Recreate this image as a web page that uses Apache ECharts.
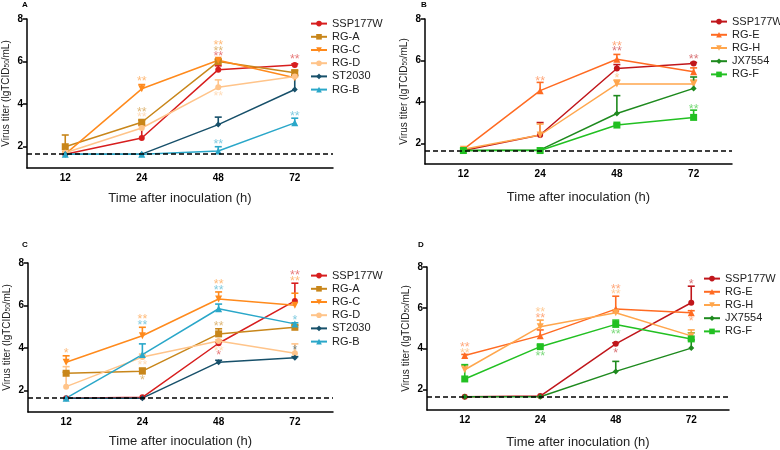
<!DOCTYPE html>
<html>
<head>
<meta charset="utf-8">
<script src="https://cdn.jsdelivr.net/npm/echarts@6/dist/echarts.min.js"></script>
<style>
html,body{margin:0;padding:0;background:#fff;}
#chart{width:780px;height:450px;}
</style>
</head>
<body>
<div id="chart"></div>
<script>
// ---------------- DATA ----------------
const times = ['12', '24', '48', '72'];
const LOD = 1.65;
const yTicks = [2, 4, 6, 8];
const panelLetters = ['A', 'B', 'C', 'D'];
const xTitle = 'Time after inoculation (h)';

// Panel A
const namesA = ['SSP177W', 'RG-A', 'RG-C', 'RG-D', 'ST2030', 'RG-B'];
const valuesA = [
  [1.65, 2.41, 5.62, 5.84],
  [2.00, 3.15, 6.00, 5.48],
  [1.65, 4.72, 6.06, 5.24],
  [1.72, 2.88, 4.79, 5.30],
  [1.65, 1.65, 3.04, 4.69],
  [1.65, 1.65, 1.80, 3.12]
];
const errorsA = [
  [0, 0.60, 0.18, 0.05],
  [0.55, 0.10, 0.08, 0.10],
  [0, 0.20, 0.05, 0.05],
  [0, 0.10, 0.35, 0.05],
  [0, 0, 0.35, 0.66],
  [0, 0, 0.20, 0.22]
];
// [time index, y, text, series index]
const starsA = [
  [1, 5.17, '**', 2], [1, 3.73, '**', 1], [1, 3.51, '**', 3],
  [2, 6.85, '**', 2], [2, 6.60, '**', 1], [2, 6.35, '**', 0],
  [2, 4.47, '**', 3], [2, 2.20, '**', 5],
  [3, 6.19, '**', 0], [3, 3.54, '**', 5]
];

// Panel B
const namesB = ['SSP177W', 'RG-E', 'RG-H', 'JX7554', 'RG-F'];
const valuesB = [
  [1.65, 2.40, 5.61, 5.85],
  [1.71, 4.54, 6.06, 5.45],
  [1.71, 2.40, 4.86, 4.86],
  [1.65, 1.68, 3.44, 4.65],
  [1.65, 1.65, 2.88, 3.25]
];
const errorsB = [
  [0, 0.60, 0.19, 0.05],
  [0, 0.40, 0.23, 0.19],
  [0, 0.53, 0.19, 0.19],
  [0, 0, 0.86, 0.55],
  [0, 0, 0.05, 0.35]
];
const starsB = [
  [1, 5.10, '**', 1],
  [2, 6.80, '**', 1], [2, 6.54, '**', 0], [2, 5.26, '*', 2],
  [3, 6.14, '**', 0], [3, 3.77, '**', 4]
];

// Panel C
const namesC = ['SSP177W', 'RG-A', 'RG-C', 'RG-D', 'ST2030', 'RG-B'];
const valuesC = [
  [1.65, 1.69, 4.23, 6.22],
  [2.82, 2.92, 4.67, 4.98],
  [3.34, 4.58, 6.31, 6.02],
  [2.19, 3.58, 4.34, 3.76],
  [1.65, 1.65, 3.34, 3.55],
  [1.65, 3.70, 5.85, 5.14]
];
const errorsC = [
  [0, 0, 0.05, 0.83],
  [0.05, 0.14, 0.24, 0.10],
  [0.30, 0.40, 0.33, 0.56],
  [0.94, 0.14, 0.05, 0.44],
  [0, 0, 0.09, 0.05],
  [0, 0.50, 0.22, 0.05]
];
const starsC = [
  [0, 3.87, '*', 2],
  [1, 5.45, '**', 2], [1, 5.18, '**', 5], [1, 3.32, '**', 3], [1, 2.61, '*', 1],
  [2, 7.09, '**', 2], [2, 6.83, '**', 5], [2, 5.13, '**', 1], [2, 3.97, '**', 3], [2, 3.75, '*', 0],
  [3, 7.53, '**', 0], [3, 7.26, '**', 2], [3, 5.40, '*', 5], [3, 4.02, '*', 4]
];

// Panel D
const namesD = ['SSP177W', 'RG-E', 'RG-H', 'JX7554', 'RG-F'];
const valuesD = [
  [1.65, 1.68, 4.24, 6.25],
  [3.67, 4.64, 5.94, 5.76],
  [2.97, 5.08, 5.76, 4.63],
  [1.65, 1.65, 2.89, 4.03],
  [2.52, 4.10, 5.19, 4.48]
];
const errorsD = [
  [0, 0, 0.05, 0.81],
  [0.05, 0.28, 0.63, 0.10],
  [0.20, 0.32, 0.10, 0.29],
  [0, 0, 0.49, 0.40],
  [0.70, 0.08, 0.21, 0.30]
];
const starsD = [
  [0, 4.19, '**', 1], [0, 3.91, '**', 2],
  [1, 5.87, '**', 2], [1, 5.60, '**', 1], [1, 3.73, '**', 4],
  [2, 7.00, '**', 1], [2, 6.75, '**', 2], [2, 4.80, '**', 4], [2, 3.91, '*', 0],
  [3, 7.24, '*', 0], [3, 5.45, '*', 1]
];

// ---------------- STYLE / LAYOUT ----------------
const FONT = 'Arial, "Liberation Sans", Helvetica, sans-serif';
const colors6 = ['#d71e1e', '#c8861a', '#ff8a1c', '#ffc48a', '#17506a', '#2aa7c9'];
const symbols6 = ['circle', 'rect', 'triangle', 'circle', 'diamond', 'triangle'];
const rot6 = [0, 0, 180, 0, 0, 0];
const colors5 = ['#c0161b', '#ff6b22', '#ffa64d', '#1e8a1e', '#22c022'];
const symbols5 = ['circle', 'triangle', 'triangle', 'diamond', 'rect'];
const rot5 = [0, 0, 180, 0, 0];
const symSize = { circle: 6, rect: 7, triangle: 7, diamond: 6 };

const panels = [
  { names: namesA, values: valuesA, errors: errorsA, stars: starsA, colors: colors6, symbols: symbols6, rot: rot6,
    grid: { left: 27, top: 19, width: 306, height: 149 }, legend: { left: 310, top: 17 }, xGap: 24, label: [22, 1] },
  { names: namesB, values: valuesB, errors: errorsB, stars: starsB, colors: colors5, symbols: symbols5, rot: rot5,
    grid: { left: 425, top: 19, width: 307, height: 145 }, legend: { left: 710, top: 15 }, xGap: 27, label: [421, 1] },
  { names: namesC, values: valuesC, errors: errorsC, stars: starsC, colors: colors6, symbols: symbols6, rot: rot6,
    grid: { left: 28, top: 263, width: 305, height: 149 }, legend: { left: 310, top: 269 }, xGap: 23, label: [22, 241] },
  { names: namesD, values: valuesD, errors: errorsD, stars: starsD, colors: colors5, symbols: symbols5, rot: rot5,
    grid: { left: 427, top: 267, width: 302, height: 144 }, legend: { left: 703, top: 272 }, xGap: 26, label: [418, 241] }
];

function hexA(hex, a) {
  const r = parseInt(hex.slice(1, 3), 16), g = parseInt(hex.slice(3, 5), 16), b = parseInt(hex.slice(5, 7), 16);
  return 'rgba(' + r + ',' + g + ',' + b + ',' + a + ')';
}

const grid = [], xAxis = [], yAxis = [], series = [], legend = [], title = [];

panels.forEach((p, pi) => {
  grid.push(Object.assign({ containLabel: false }, p.grid));
  xAxis.push({
    type: 'category', gridIndex: pi, data: times, boundaryGap: true,
    name: xTitle, nameLocation: 'middle', nameGap: p.xGap,
    nameTextStyle: { fontFamily: FONT, fontSize: 13, color: '#222' },
    axisLine: { lineStyle: { color: '#000', width: 1.5 } },
    axisTick: { alignWithLabel: true, length: 4, lineStyle: { color: '#000', width: 1.5 } },
    axisLabel: { fontFamily: FONT, fontSize: 10, fontWeight: 'bold', color: '#000', margin: 5 },
    splitLine: { show: false }
  });
  yAxis.push({
    type: 'value', gridIndex: pi, min: 1, max: 8,
    name: 'Virus titer (lgTCID{s|50}/mL)', nameLocation: 'middle', nameRotate: 90, nameGap: 16,
    nameTextStyle: { fontFamily: FONT, fontSize: 10, color: '#222',
      rich: { s: { fontFamily: FONT, fontSize: 6.5, color: '#222', verticalAlign: 'bottom', padding: [3, 0, 0, 0] } } },
    axisLine: { show: true, lineStyle: { color: '#000', width: 1.5 } },
    axisTick: { show: true, length: 4, customValues: yTicks, lineStyle: { color: '#000', width: 1.5 } },
    axisLabel: { fontFamily: FONT, fontSize: 10, fontWeight: 'bold', color: '#000', margin: 4, customValues: yTicks },
    splitLine: { show: false }
  });
  title.push({ text: panelLetters[pi], left: p.label[0], top: p.label[1], padding: 0,
    textStyle: { fontFamily: FONT, fontSize: 8, fontWeight: 'bold', color: '#000' } });

  const legendData = [];
  p.names.forEach((n, si) => {
    const sname = panelLetters[pi] + ':' + n;
    legendData.push(sname);
    const col = p.colors[si];
    const s = {
      type: 'line', name: sname, xAxisIndex: pi, yAxisIndex: pi,
      data: p.values[si], symbol: p.symbols[si], symbolSize: symSize[p.symbols[si]], symbolRotate: p.rot[si],
      showSymbol: true, lineStyle: { color: col, width: 1.5 }, itemStyle: { color: col },
      z: 3, animation: false
    };
    if (si === 0) {
      s.markLine = { silent: true, symbol: 'none', animation: false,
        label: { show: false }, lineStyle: { type: [5, 3], color: '#000', width: 1.5 },
        emphasis: { disabled: true }, data: [{ yAxis: LOD }] };
    }
    series.push(s);
    // error bars (upper)
    const errData = p.values[si].map((v, ti) => [ti, v, p.errors[si][ti]]);
    series.push({
      type: 'custom', xAxisIndex: pi, yAxisIndex: pi, data: errData, z: 2, silent: true, animation: false,
      encode: { x: 0, y: 1 },
      renderItem: function (params, api) {
        const x = api.value(0), y = api.value(1), e = api.value(2);
        if (!(e > 0)) return null;
        const p0 = api.coord([x, y]), p1 = api.coord([x, y + e]);
        const st = { stroke: col, lineWidth: 1.6 };
        return { type: 'group', children: [
          { type: 'line', shape: { x1: p0[0], y1: p0[1], x2: p1[0], y2: p1[1] }, style: st },
          { type: 'line', shape: { x1: p1[0] - 3.5, y1: p1[1], x2: p1[0] + 3.5, y2: p1[1] }, style: st }
        ] };
      }
    });
  });
  legend.push({
    data: legendData, left: p.legend.left, top: p.legend.top, orient: 'vertical', padding: 0,
    itemWidth: 16, itemHeight: 7, itemGap: 0, selectedMode: false,
    formatter: function (name) { return name.split(':')[1]; },
    textStyle: { fontFamily: FONT, fontSize: 11, color: '#222', lineHeight: 13.2, padding: [0, 0, 0, 0] }
  });
  // significance stars
  const stars = p.stars;
  series.push({
    type: 'custom', xAxisIndex: pi, yAxisIndex: pi, z: 4, silent: true, animation: false,
    data: stars.map(a => [a[0], a[1]]), encode: { x: 0, y: 1 },
    renderItem: function (params, api) {
      const a = stars[params.dataIndex];
      const pt = api.coord([a[0], a[1]]);
      return { type: 'text', x: pt[0], y: pt[1] + 2.5,
        style: { text: a[2], fill: hexA(p.colors[a[3]], 0.6), fontFamily: FONT, fontSize: 12.5,
          align: 'center', verticalAlign: 'middle' } };
    }
  });
});

const chart = echarts.init(document.getElementById('chart'), null, { renderer: 'canvas' });
chart.setOption({
  backgroundColor: '#fff', animation: false,
  title: title, grid: grid, xAxis: xAxis, yAxis: yAxis, legend: legend, series: series,
  tooltip: { show: false }
});
</script>
</body>
</html>
